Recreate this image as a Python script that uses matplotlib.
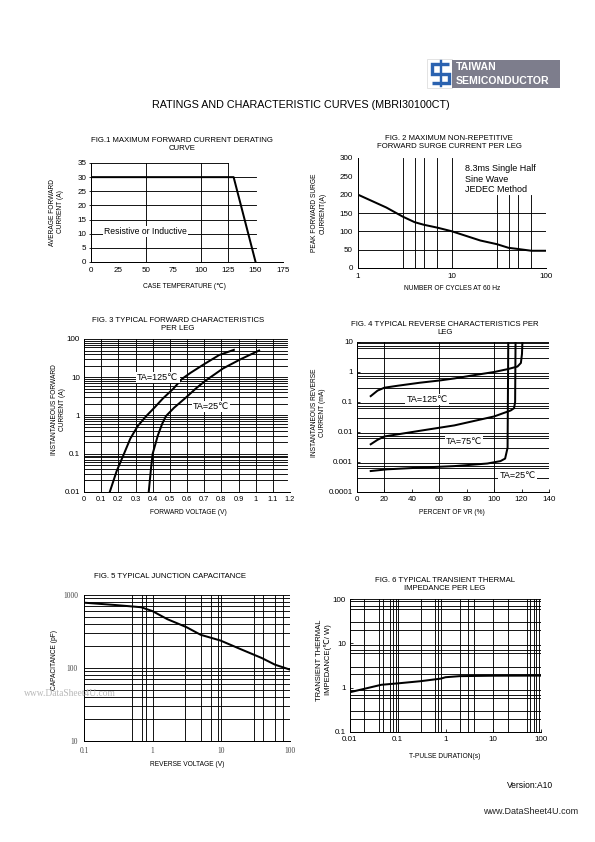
import matplotlib
matplotlib.use("Agg")
import matplotlib.pyplot as plt
from matplotlib.ticker import NullLocator

W, H = 595, 842
SANS = ["Liberation Sans", "DejaVu Sans"]
SERIF = ["Liberation Serif", "DejaVu Serif"]
BLACK = "#000000"
LOGO_BLUE = "#2a62b0"
LOGO_GRAY = "#7d7d8c"

plt.rcParams["font.family"] = SANS

# Fig.1 derating curve
derate_temp = [0, 130, 150]
derate_current = [30, 30, 0]

# Fig.2 surge current
surge_cycles = [1, 2, 3, 4, 5, 7, 10, 20, 30, 40, 50, 70, 100]
surge_current = [200, 165, 140, 125, 118, 110, 100, 75, 65, 55, 52, 47, 47]

# Fig.3 forward characteristics
fwd_v_125 = [0.15, 0.19, 0.233, 0.27, 0.313, 0.362, 0.41, 0.46, 0.52, 0.57, 0.62, 0.70, 0.787, 0.873]
fwd_i_125 = [0.01, 0.035, 0.1, 0.25, 0.53, 0.96, 1.6, 2.8, 5.0, 9.0, 13, 22, 38, 52]
fwd_v_25 = [0.377, 0.39, 0.40, 0.43, 0.455, 0.477, 0.525, 0.592, 0.65, 0.704, 0.81, 0.915, 1.02]
fwd_i_25 = [0.01, 0.04, 0.1, 0.3, 0.6, 0.96, 1.6, 2.9, 5.0, 7.9, 17, 30, 50]

# Fig.4 reverse characteristics
rev_pct_125 = [10, 15, 20, 30, 46, 60, 71, 85, 100, 110, 117, 119.5, 120.3, 120.6]
rev_ma_125 = [0.157, 0.24, 0.30, 0.35, 0.44, 0.52, 0.61, 0.78, 1.0, 1.25, 1.52, 2.0, 4.0, 10]
rev_pct_75 = [10, 15, 20, 46, 71, 100, 112, 114.5, 115.3, 115.6]
rev_ma_75 = [0.0039, 0.0055, 0.0071, 0.011, 0.0166, 0.033, 0.052, 0.062, 0.1, 10]
rev_pct_25 = [10, 22, 46, 71, 95, 104.6, 108, 109.8, 110.3]
rev_ma_25 = [0.0005, 0.00057, 0.00065, 0.00073, 0.00089, 0.00107, 0.0013, 0.003, 10]

# Fig.5 junction capacitance
cap_v = [0.1, 0.28, 0.68, 1.0, 1.64, 3.1, 5, 9.7, 18.9, 38.8, 60.5, 100]
cap_pf = [785, 730, 680, 600, 466, 363, 285, 238, 182, 137, 111, 95]

# Fig.6 transient thermal impedance
pulse_t = [0.01, 0.045, 0.1, 0.3, 0.8, 1, 2, 10, 100]
thermal_z = [0.79, 1.16, 1.25, 1.4, 1.6, 1.72, 1.82, 1.86, 1.87]

TICK_SIZE = 8
AXLABEL_SIZE = 6.6
TITLE_SIZE = 7.8
NOTE_SIZE = 9


def px_axes(fig, left, top, right, bottom):
    """Axes placed by page pixel box."""
    return fig.add_axes([left / W, 1 - bottom / H, (right - left) / W, (bottom - top) / H])


def style(ax, fontsize=TICK_SIZE, family=SANS, tick_dir="out"):
    for s in ("top", "right"):
        ax.spines[s].set_visible(False)
    for s in ("left", "bottom"):
        ax.spines[s].set_linewidth(1.0)
        ax.spines[s].set_color(BLACK)
    ax.tick_params(labelsize=fontsize, length=2.5, width=0.8, pad=2, direction=tick_dir)
    for lab in ax.get_xticklabels() + ax.get_yticklabels():
        lab.set_family(family)
    ax.xaxis.set_minor_locator(NullLocator())
    ax.yaxis.set_minor_locator(NullLocator())
    ax.set_facecolor("none")


def hlines(ax, values, x0=0, x1=1):
    for v in values:
        ax.axhline(v, x0, x1, color=BLACK, lw=0.9, zorder=1)


def vlines(ax, values, y0=0, y1=1):
    for v in values:
        ax.axvline(v, y0, y1, color=BLACK, lw=0.9, zorder=1)


def decades(lo, hi, mults):
    out = []
    d = lo
    while d < hi:
        out += [d * m for m in mults]
        d *= 10
    return out


def label(ax, x, y, s, ha="center", size=NOTE_SIZE):
    ax.text(x, y, s, ha=ha, va="center", fontsize=size, family=SANS, zorder=4,
            bbox=dict(facecolor="white", edgecolor="none", pad=1.2))


fig = plt.figure(figsize=(W / 72, H / 72), dpi=72)

# ---- Fig.1
ax = px_axes(fig, 91, 163, 283, 262)
ax.set_xlim(0, 175)
ax.set_ylim(0, 35)
ax.set_xticks(range(0, 176, 25))
ax.set_yticks(range(0, 36, 5))
hlines(ax, range(5, 31, 5), 0, 150 / 175)
hlines(ax, [35], 0, 125 / 175)
vlines(ax, [50, 100, 125])
ax.plot(derate_temp, derate_current, color=BLACK, lw=2, zorder=3)
label(ax, 12, 10.8, "Resistive or Inductive", ha="left", size=8.6)
style(ax)
ax.tick_params(axis="x", length=0, pad=5)

# ---- Fig.2
ax = px_axes(fig, 358, 158, 546, 268)
ax.set_xscale("log")
ax.set_xlim(1, 100)
ax.set_ylim(0, 300)
ax.set_xticks([1, 10, 100])
ax.set_xticklabels(["1", "10", "100"])
ax.set_yticks(range(0, 301, 50))
hlines(ax, [50, 100, 150])
vlines(ax, [3, 4, 5, 7, 10])
vlines(ax, [30, 40, 50, 70], 0, 200 / 300)
ax.plot(surge_cycles, surge_current, color=BLACK, lw=2, zorder=3)
ax.text(13.8, 283, "8.3ms Single Half\nSine Wave\nJEDEC Method", ha="left", va="top",
        fontsize=NOTE_SIZE, linespacing=1.2)
style(ax)
ax.tick_params(length=0, pad=5)

# ---- Fig.3
ax = px_axes(fig, 84, 339, 290, 492)
ax.set_yscale("log")
ax.set_xlim(0, 1.2)
ax.set_ylim(0.01, 100)
ax.set_xticks([i / 10 for i in range(13)])
ax.set_xticklabels(["0", "0.1", "0.2", "0.3", "0.4", "0.5", "0.6", "0.7", "0.8", "0.9", "1", "1.1", "1.2"])
ax.set_yticks([0.01, 0.1, 1, 10, 100])
ax.set_yticklabels(["0.01", "0.1", "1", "10", "100"])
hlines(ax, decades(0.01, 100, [1, 2, 3, 4, 5, 6, 7, 8, 9]) + [100], 0, 0.985)
vlines(ax, [i / 10 for i in range(1, 12)])
ax.plot(fwd_v_125, fwd_i_125, color=BLACK, lw=2, zorder=3)
ax.plot(fwd_v_25, fwd_i_25, color=BLACK, lw=2, zorder=3)
label(ax, 0.43, 10, "TA=125\u2103")
label(ax, 0.74, 1.75, "TA=25\u2103")
style(ax)
ax.tick_params(length=0, pad=4)
ax.tick_params(axis="x", labelsize=7.4)

# ---- Fig.4
ax = px_axes(fig, 357, 342, 549, 492)
ax.set_yscale("log")
ax.set_xlim(0, 140)
ax.set_ylim(0.0001, 10)
ax.set_xticks(range(0, 141, 20))
ax.set_yticks([0.0001, 0.001, 0.01, 0.1, 1, 10])
ax.set_yticklabels(["0.0001", "0.001", "0.01", "0.1", "1", "10"])
hlines(ax, decades(0.0001, 10, [3, 6.5, 7.5, 9]) + [10])
vlines(ax, [20, 60, 100])
for xs, ys in ((rev_pct_125, rev_ma_125), (rev_pct_75, rev_ma_75), (rev_pct_25, rev_ma_25)):
    ax.plot(xs, ys, color=BLACK, lw=2, zorder=3)
label(ax, 51, 0.12, "TA=125\u2103")
label(ax, 78, 0.005, "TA=75\u2103")
label(ax, 117, 0.00036, "TA=25\u2103")
style(ax, tick_dir="in")
ax.tick_params(length=3, pad=4)

# ---- Fig.5
ax = px_axes(fig, 84, 595, 290, 741)
ax.set_xscale("log")
ax.set_yscale("log")
ax.set_xlim(0.1, 100)
ax.set_ylim(10, 1000)
ax.set_xticks([0.1, 1, 10, 100])
ax.set_xticklabels(["0.1", "1", "10", "100"])
ax.set_yticks([10, 100, 1000])
ax.set_yticklabels(["10", "100", "1000"])
hlines(ax, decades(10, 1000, [2, 3, 4, 5, 6, 7, 8, 9]) + [100, 1000])
vlines(ax, [0.5, 0.7, 0.8, 1, 3, 5, 7, 9, 10, 30, 40, 60, 80])
ax.axvline(100, color="#888888", lw=0.9, zorder=1)
ax.plot(cap_v, cap_pf, color=BLACK, lw=2, zorder=3)
style(ax, fontsize=7.5, family=SERIF)
ax.tick_params(length=0, pad=6, labelcolor="#444444")

# ---- Fig.6
ax = px_axes(fig, 350, 599, 541, 732)
ax.set_xscale("log")
ax.set_yscale("log")
ax.set_xlim(0.01, 100)
ax.set_ylim(0.1, 100)
ax.set_xticks([0.01, 0.1, 1, 10, 100])
ax.set_xticklabels(["0.01", "0.1", "1", "10", "100"])
ax.set_yticks([0.1, 1, 10, 100])
ax.set_yticklabels(["0.1", "1", "10", "100"])
hlines(ax, decades(0.1, 100, [2, 3, 6, 7, 9]) + [100])
vlines(ax, [0.02, 0.04, 0.05, 0.07, 0.08, 0.09, 0.1, 0.3, 0.6, 0.7, 0.8,
            2, 3, 4, 10, 20, 50, 60, 70, 80, 90, 100])
ax.plot(pulse_t, thermal_z, color=BLACK, lw=2, zorder=3)
style(ax, tick_dir="in")
ax.tick_params(length=3, pad=4)

# ---- page texts (pixel coordinates)
page = fig.add_axes([0, 0, 1, 1])
page.set_xlim(0, W)
page.set_ylim(H, 0)
page.axis("off")
page.patch.set_alpha(0)


def ptext(x, y, s, size=TITLE_SIZE, ha="center", rot=0, **kw):
    page.text(x, y, s, fontsize=size, ha=ha, va="center", rotation=rot,
              linespacing=1.2, **kw)


ptext(301, 105, "RATINGS AND CHARACTERISTIC CURVES (MBRI30100CT)", size=10.8)

ptext(182, 145, "FIG.1 MAXIMUM FORWARD CURRENT DERATING\nCURVE")
ptext(449, 142, "FIG. 2 MAXIMUM NON-REPETITIVE\nFORWARD SURGE CURRENT PER LEG")
ptext(178, 325, "FIG. 3 TYPICAL FORWARD CHARACTERISTICS\nPER LEG")
ptext(445, 328, "FIG. 4 TYPICAL REVERSE CHARACTERISTICS PER\nLEG")
ptext(170, 577, "FIG. 5 TYPICAL JUNCTION CAPACITANCE")
ptext(445, 585, "FIG. 6 TYPICAL TRANSIENT THERMAL\nIMPEDANCE PER LEG")

ptext(184, 286, "CASE TEMPERATURE (\u2103)", size=AXLABEL_SIZE)
ptext(452, 289, "NUMBER OF CYCLES AT 60 Hz", size=AXLABEL_SIZE)
ptext(188, 512, "FORWARD VOLTAGE (V)", size=AXLABEL_SIZE)
ptext(452, 513, "PERCENT OF VR (%)", size=AXLABEL_SIZE)
ptext(187, 764, "REVERSE VOLTAGE (V)", size=AXLABEL_SIZE)
ptext(445, 756, "T-PULSE DURATION(s)", size=AXLABEL_SIZE)

ptext(57, 212, "AVERAGE FORWARD\nCURRENT (A)", size=AXLABEL_SIZE, rot=90)
ptext(319, 213, "PEAK FORWARD SURGE\nCURRENT(A)", size=AXLABEL_SIZE, rot=90)
ptext(58, 410, "INSTANTANEOUS FORWARD\nCURRENT (A)", size=AXLABEL_SIZE, rot=90)
ptext(319, 413, "INSTANTANEOUS REVERSE\nCURRENT (mA)", size=AXLABEL_SIZE, rot=90)
ptext(55, 660, "CAPACITANCE (pF)", size=AXLABEL_SIZE, rot=90)
ptext(324, 660, "TRANSIENT THERMAL\nIMPEDANCE(\u2103/ W)", size=7.6, rot=90)

ptext(70, 693, "www.DataSheet4U.com", size=9.5, color="#b8b8b8", family=SERIF)
ptext(530, 786, "Version:A10", size=8.5)
ptext(531, 812, "www.DataSheet4U.com", size=9, color="#222222")

# logo
page.add_patch(plt.Rectangle((427, 59), 25, 29, facecolor="white", edgecolor="#dddddd", lw=0.8))
page.add_patch(plt.Rectangle((452, 60), 108, 28, facecolor=LOGO_GRAY, edgecolor="none"))
ptext(456, 67.5, "TAIWAN", size=10.5, ha="left", color="white", weight="bold")
ptext(456, 80.5, "SEMICONDUCTOR", size=10.5, ha="left", color="white", weight="bold")
page.plot([449, 432, 432, 449, 449, 432], [64, 64, 73.5, 73.5, 83, 83],
          color=LOGO_BLUE, lw=3.4, solid_capstyle="butt", solid_joinstyle="miter")
page.plot([440.5, 440.5], [61, 86], color=LOGO_BLUE, lw=2.4)

fig.savefig("out.png", dpi=72, facecolor="white")
